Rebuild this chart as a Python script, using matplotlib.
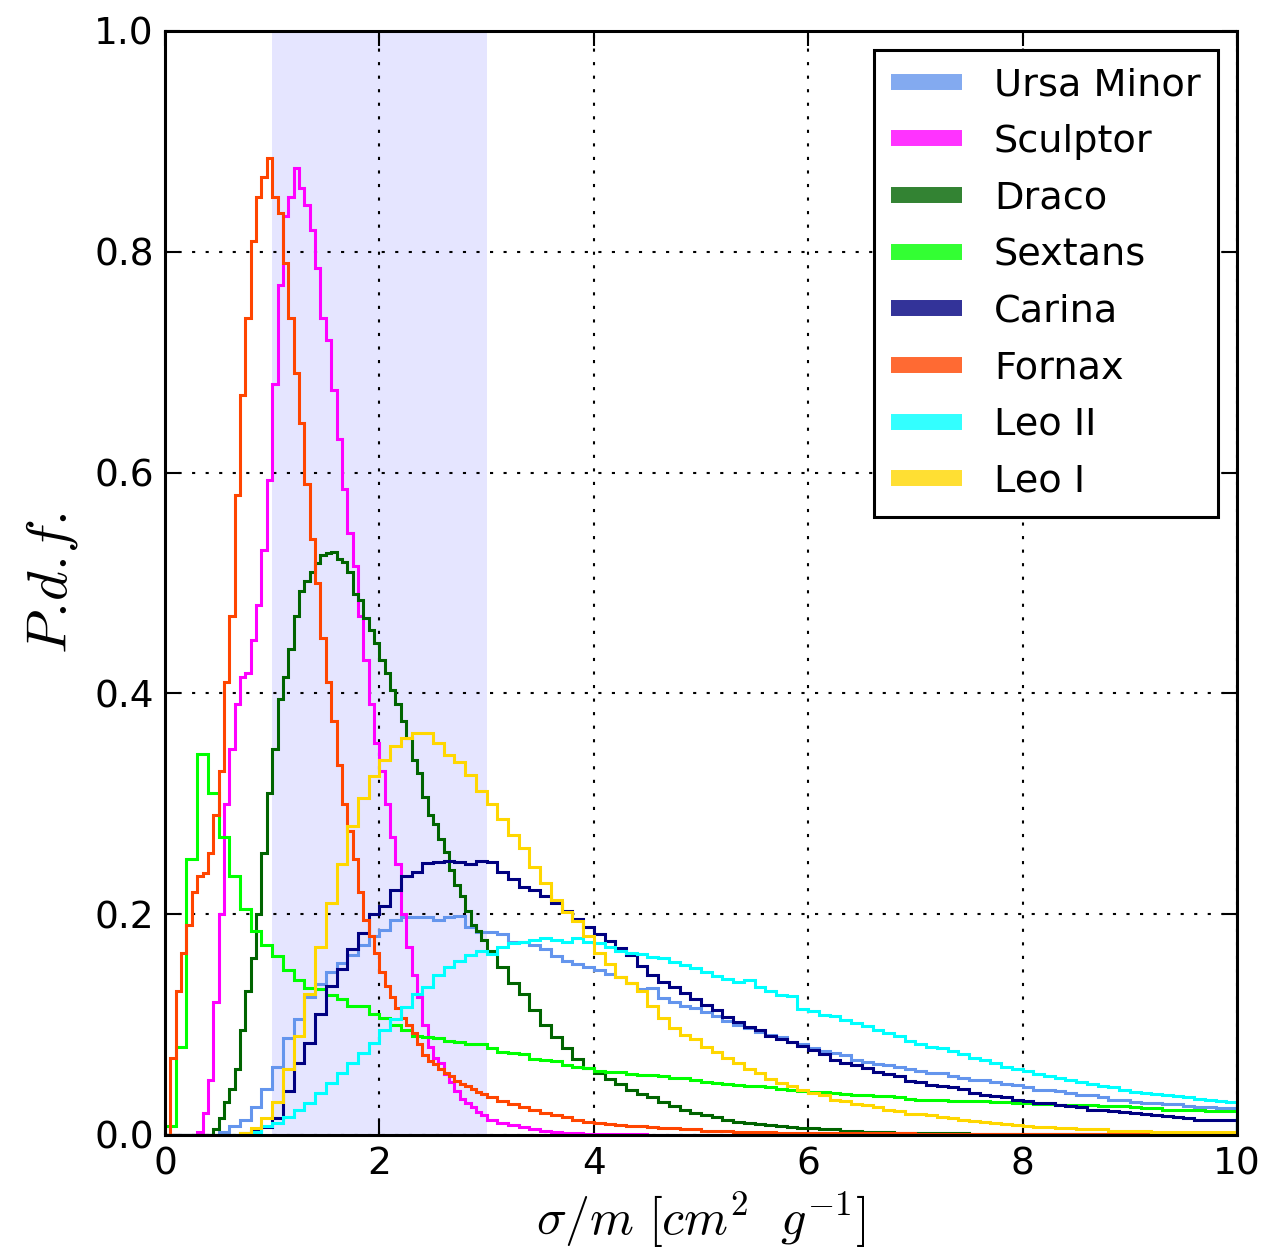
import numpy as np
import matplotlib
matplotlib.use("Agg")
import matplotlib.pyplot as plt
from matplotlib.lines import Line2D

plt.rcParams["font.family"] = "DejaVu Sans"
plt.rcParams["mathtext.fontset"] = "cm"
plt.rcParams["font.size"] = 27

# posterior of sigma/m per dwarf
# narrow posteriors: 0.05 bins up to 3, then 0.1 bins
fine_edges = np.concatenate([np.linspace(0.0, 3.0, 61), np.linspace(3.1, 10.0, 70)])
# broad posteriors: 0.1 bins everywhere
bin_edges = np.linspace(0.0, 10.0, 101)

ursa_minor = [
    0.0, 0.0, 0.0, 0.0, 0.0, 0.003, 0.008, 0.014, 0.025, 0.042,
    0.062, 0.088, 0.105, 0.125, 0.137, 0.148, 0.156, 0.163, 0.172, 0.180,
    0.186, 0.195, 0.197, 0.197, 0.197, 0.195, 0.197, 0.198, 0.188, 0.184,
    0.184, 0.182, 0.175, 0.175, 0.172, 0.168, 0.162, 0.158, 0.155, 0.152,
    0.149, 0.146, 0.143, 0.138, 0.132, 0.133, 0.124, 0.120, 0.117, 0.115,
    0.111, 0.108, 0.103, 0.100, 0.097, 0.093, 0.091, 0.089, 0.084, 0.082,
    0.079, 0.076, 0.074, 0.072, 0.068, 0.066, 0.064, 0.063, 0.062, 0.060,
    0.058, 0.056, 0.056, 0.053, 0.052, 0.050, 0.050, 0.048, 0.046, 0.045,
    0.043, 0.041, 0.041, 0.040, 0.038, 0.036, 0.036, 0.034, 0.032, 0.032,
    0.030, 0.029, 0.029, 0.028, 0.028, 0.026, 0.025, 0.025, 0.024, 0.024,
]

sculptor = [
    # 0.00 - 3.00 (0.05 bins)
    0.0, 0.0, 0.0, 0.0, 0.0, 0.0, 0.003, 0.020, 0.050, 0.120,
    0.200, 0.300, 0.350, 0.390, 0.415, 0.418, 0.448, 0.480, 0.530, 0.593,
    0.680, 0.770, 0.832, 0.850, 0.876, 0.858, 0.842, 0.820, 0.785, 0.740,
    0.720, 0.675, 0.630, 0.585, 0.545, 0.515, 0.470, 0.430, 0.390, 0.355,
    0.330, 0.300, 0.270, 0.245, 0.200, 0.170, 0.145, 0.125, 0.100, 0.080,
    0.070, 0.065, 0.055, 0.048, 0.040, 0.033, 0.029, 0.025, 0.021, 0.018,
    # 3.0 - 10.0 (0.1 bins)
    0.014, 0.011, 0.009, 0.007, 0.005, 0.004, 0.003, 0.002, 0.0015, 0.001,
    0.001, 0.0005, 0.0005, 0.0005, 0.0005,
] + [0.0] * 55

draco = [
    # 0.00 - 3.00 (0.05 bins)
    0.0, 0.0, 0.0, 0.0, 0.0, 0.0, 0.0, 0.0, 0.0, 0.005,
    0.015, 0.030, 0.042, 0.060, 0.095, 0.130, 0.160, 0.200, 0.255, 0.310,
    0.350, 0.395, 0.415, 0.440, 0.470, 0.493, 0.502, 0.510, 0.518, 0.525,
    0.527, 0.528, 0.522, 0.519, 0.510, 0.490, 0.485, 0.468, 0.457, 0.446,
    0.430, 0.418, 0.403, 0.390, 0.375, 0.360, 0.340, 0.328, 0.306, 0.290,
    0.282, 0.268, 0.256, 0.240, 0.226, 0.216, 0.203, 0.190, 0.185, 0.177,
    # 3.0 - 10.0 (0.1 bins)
    0.167, 0.152, 0.138, 0.128, 0.113, 0.100, 0.089, 0.079, 0.069, 0.061,
    0.056, 0.051, 0.046, 0.041, 0.037, 0.034, 0.030, 0.026, 0.023, 0.020,
    0.018, 0.016, 0.014, 0.012, 0.011, 0.010, 0.009, 0.008, 0.007, 0.006,
    0.006, 0.005, 0.005, 0.004, 0.004, 0.003, 0.003, 0.003, 0.002, 0.002,
    0.002, 0.002, 0.002, 0.002, 0.002, 0.001, 0.001, 0.001, 0.001, 0.001,
    0.001, 0.001, 0.001, 0.001, 0.001, 0.001, 0.001, 0.001, 0.001, 0.001,
    0.0005, 0.0005, 0.0005, 0.0005, 0.0005, 0.0005, 0.0005, 0.0005, 0.0005, 0.0005,
]

sextans = [
    0.008, 0.080, 0.250, 0.345, 0.310, 0.270, 0.235, 0.205, 0.185, 0.172,
    0.162, 0.149, 0.140, 0.133, 0.132, 0.127, 0.123, 0.117, 0.117, 0.110,
    0.106, 0.100, 0.095, 0.090, 0.089, 0.088, 0.085, 0.084, 0.082, 0.082,
    0.079, 0.075, 0.074, 0.073, 0.069, 0.068, 0.067, 0.063, 0.062, 0.061,
    0.058, 0.057, 0.057, 0.055, 0.054, 0.054, 0.053, 0.052, 0.052, 0.050,
    0.048, 0.047, 0.046, 0.045, 0.044, 0.044, 0.043, 0.042, 0.041, 0.040,
    0.039, 0.039, 0.038, 0.037, 0.036, 0.036, 0.035, 0.035, 0.034, 0.033,
    0.032, 0.032, 0.032, 0.031, 0.031, 0.031, 0.031, 0.030, 0.030, 0.029,
    0.029, 0.028, 0.028, 0.027, 0.027, 0.027, 0.027, 0.026, 0.026, 0.026,
    0.025, 0.024, 0.024, 0.023, 0.023, 0.023, 0.023, 0.022, 0.022, 0.022,
]

carina = [
    0.0, 0.0, 0.0, 0.0, 0.0, 0.0, 0.0, 0.002, 0.004, 0.007,
    0.015, 0.040, 0.065, 0.083, 0.110, 0.135, 0.150, 0.168, 0.183, 0.200,
    0.207, 0.222, 0.235, 0.238, 0.246, 0.247, 0.248, 0.247, 0.245, 0.248,
    0.247, 0.238, 0.232, 0.225, 0.222, 0.216, 0.210, 0.203, 0.196, 0.188,
    0.182, 0.176, 0.169, 0.163, 0.153, 0.145, 0.139, 0.134, 0.129, 0.123,
    0.118, 0.113, 0.107, 0.102, 0.098, 0.095, 0.090, 0.087, 0.084, 0.081,
    0.077, 0.073, 0.068, 0.065, 0.063, 0.061, 0.057, 0.055, 0.053, 0.049,
    0.048, 0.045, 0.044, 0.043, 0.042, 0.038, 0.036, 0.035, 0.034, 0.032,
    0.031, 0.029, 0.029, 0.027, 0.026, 0.025, 0.023, 0.023, 0.022, 0.021,
    0.020, 0.019, 0.018, 0.017, 0.016, 0.015, 0.014, 0.014, 0.014, 0.014,
]

fornax = [
    # 0.00 - 3.00 (0.05 bins)
    0.0, 0.070, 0.130, 0.165, 0.190, 0.220, 0.235, 0.237, 0.255, 0.290,
    0.330, 0.410, 0.470, 0.580, 0.670, 0.740, 0.810, 0.850, 0.868, 0.885,
    0.850, 0.835, 0.790, 0.740, 0.690, 0.645, 0.590, 0.540, 0.500, 0.450,
    0.410, 0.375, 0.335, 0.300, 0.275, 0.250, 0.220, 0.195, 0.180, 0.165,
    0.148, 0.135, 0.125, 0.115, 0.106, 0.100, 0.092, 0.082, 0.072, 0.067,
    0.064, 0.060, 0.056, 0.053, 0.049, 0.046, 0.044, 0.042, 0.039, 0.037,
    # 3.0 - 10.0 (0.1 bins)
    0.034, 0.031, 0.028, 0.025, 0.023, 0.020, 0.018, 0.016, 0.014, 0.012,
    0.011, 0.010, 0.009, 0.008, 0.008, 0.007, 0.006, 0.006, 0.005, 0.005,
    0.004, 0.004, 0.004, 0.003, 0.003, 0.003, 0.003, 0.002, 0.002, 0.002,
    0.002, 0.002, 0.002, 0.002, 0.002, 0.002, 0.002, 0.002, 0.002, 0.002,
    0.001, 0.001, 0.001, 0.001, 0.001, 0.001, 0.001, 0.001, 0.001, 0.001,
    0.001, 0.001, 0.001, 0.001, 0.001, 0.001, 0.001, 0.001, 0.001, 0.001,
    0.001, 0.001, 0.001, 0.001, 0.001, 0.001, 0.001, 0.001, 0.001, 0.001,
]

leo_ii = [
    0.0, 0.0, 0.0, 0.0, 0.0, 0.0, 0.0, 0.001, 0.003, 0.008,
    0.011, 0.016, 0.023, 0.029, 0.038, 0.047, 0.056, 0.065, 0.074, 0.083,
    0.095, 0.105, 0.116, 0.128, 0.134, 0.145, 0.152, 0.158, 0.163, 0.167,
    0.164, 0.170, 0.174, 0.175, 0.177, 0.178, 0.177, 0.175, 0.178, 0.175,
    0.174, 0.170, 0.167, 0.165, 0.164, 0.161, 0.160, 0.157, 0.154, 0.151,
    0.148, 0.144, 0.141, 0.139, 0.140, 0.134, 0.130, 0.127, 0.126, 0.114,
    0.112, 0.109, 0.108, 0.104, 0.101, 0.099, 0.095, 0.092, 0.090, 0.085,
    0.082, 0.080, 0.079, 0.076, 0.073, 0.070, 0.068, 0.065, 0.062, 0.060,
    0.058, 0.055, 0.053, 0.052, 0.050, 0.048, 0.046, 0.044, 0.043, 0.041,
    0.039, 0.038, 0.037, 0.036, 0.035, 0.034, 0.033, 0.032, 0.031, 0.030,
]

leo_i = [
    0.0, 0.0, 0.0, 0.0, 0.0, 0.0, 0.0, 0.002, 0.006, 0.015,
    0.030, 0.060, 0.090, 0.128, 0.170, 0.210, 0.245, 0.280, 0.305, 0.325,
    0.340, 0.352, 0.360, 0.364, 0.364, 0.355, 0.344, 0.338, 0.326, 0.312,
    0.300, 0.286, 0.272, 0.260, 0.243, 0.228, 0.213, 0.202, 0.194, 0.180,
    0.165, 0.155, 0.143, 0.138, 0.130, 0.117, 0.106, 0.097, 0.091, 0.087,
    0.080, 0.075, 0.070, 0.065, 0.060, 0.056, 0.051, 0.047, 0.044, 0.041,
    0.038, 0.036, 0.032, 0.031, 0.028, 0.027, 0.025, 0.023, 0.022, 0.019,
    0.019, 0.018, 0.016, 0.015, 0.014, 0.013, 0.012, 0.011, 0.010, 0.009,
    0.008, 0.007, 0.007, 0.006, 0.006, 0.005, 0.005, 0.005, 0.004, 0.004,
    0.004, 0.004, 0.003, 0.003, 0.003, 0.003, 0.003, 0.003, 0.003, 0.003,
]

labels = ["Ursa Minor", "Sculptor", "Draco", "Sextans",
          "Carina", "Fornax", "Leo II", "Leo I"]
series = [ursa_minor, sculptor, draco, sextans, carina, fornax, leo_ii, leo_i]
edges = [bin_edges, fine_edges, fine_edges, bin_edges,
         bin_edges, fine_edges, bin_edges, bin_edges]
colors = ["cornflowerblue", "magenta", "darkgreen", "lime",
          "navy", "orangered", "cyan", "gold"]

fig = plt.figure(figsize=(12.75, 12.58), dpi=100)
ax = fig.add_axes([0.1294, 0.0978, 0.8408, 0.8776])

# favoured range
ax.axvspan(1.0, 3.0, color="blue", alpha=0.1, lw=0, zorder=0)

for vals, e, c in zip(series, edges, colors):
    ax.stairs(vals, e, color=c, lw=2.2, zorder=2)

ax.set_xlim(0, 10)
ax.set_ylim(0, 1)
ax.set_xticks([0, 2, 4, 6, 8, 10])
ax.set_yticks([0.0, 0.2, 0.4, 0.6, 0.8, 1.0])
ax.set_yticklabels(["0.0", "0.2", "0.4", "0.6", "0.8", "1.0"])
ax.tick_params(direction="in", length=11, width=1.5, top=True, right=True, pad=8)
ax.grid(True, color="k", linestyle=(0, (1.5, 5)), lw=1.5, zorder=1)
for sp in ax.spines.values():
    sp.set_linewidth(2.2)

ax.set_xlabel(r"$\sigma/m\ [cm^2\ \ g^{-1}]$", fontsize=36, labelpad=5)
# \! cancels the thin space mathtext puts after each period
ax.set_ylabel(r"$P.\!d.\!f.$", fontsize=41, labelpad=10)

handles = [Line2D([], [], color=c, lw=11.5, alpha=0.8, solid_capstyle="butt")
           for c in colors]
leg = ax.legend(handles, labels, loc="upper right", fancybox=False, fontsize=27.5,
                handlelength=1.85, handletextpad=0.85, labelspacing=0.54,
                borderpad=0.45, borderaxespad=0.5, framealpha=1)
leg.get_frame().set_edgecolor("k")
leg.get_frame().set_linewidth(2.2)

fig.savefig("out.png", dpi=100)
